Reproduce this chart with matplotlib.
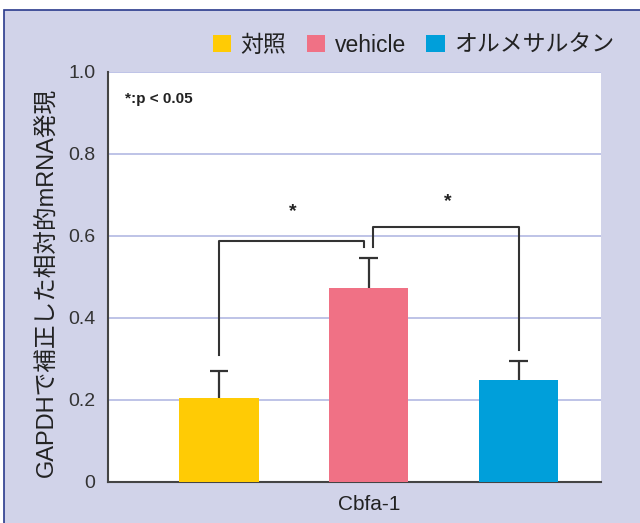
import matplotlib
matplotlib.use("Agg")
import matplotlib.pyplot as plt
from matplotlib.patches import Rectangle

plt.rcParams['font.family'] = ['Liberation Sans', 'Noto Sans CJK JP', 'DejaVu Sans']

groups = ['対照', 'vehicle', 'オルメサルタン']
means = [0.205, 0.472, 0.248]
errors = [0.065, 0.074, 0.048]
colors = ['#FFCB05', '#F07185', '#009FDA']
yticks = [0, 0.2, 0.4, 0.6, 0.8, 1.0]
ytick_labels = ['0', '0.2', '0.4', '0.6', '0.8', '1.0']
xlabel = 'Cbfa-1'
ylabel = 'GAPDHで補正した相対的mRNA発現'
note = '*:p < 0.05'

W, H = 640, 523
fig = plt.figure(figsize=(W / 100, H / 100), dpi=100)
fig.patch.set_facecolor('white')
bg = Rectangle((4 / W, -0.1), 1.2, (H - 10) / H + 0.1, transform=fig.transFigure,
               facecolor='#D1D3E9', edgecolor='#2A3A8C', linewidth=1.2, zorder=-5)
fig.patches.append(bg)

ax = fig.add_axes([108 / W, (H - 482) / H, (601 - 108) / W, (482 - 72) / H])
ax.set_zorder(2)
ax.set_facecolor('white')
x = [0, 1, 2]
ax.bar(x, means, width=0.53, color=colors, zorder=3)

# upper-only error bars
lc = '#333333'
tops = [m + e for m, e in zip(means, errors)]
cap = 0.062
ax.vlines(x, means, tops, color=lc, lw=1.6, zorder=2)
ax.hlines(tops, [xi - cap for xi in x], [xi + cap for xi in x], color=lc, lw=1.6, zorder=2)

ax.set_xlim(-0.74, 2.55)
ax.set_ylim(0, 1.0)
ax.set_yticks(yticks)
ax.set_yticklabels(ytick_labels, fontsize=14, color='#333333')
ax.tick_params(axis='y', length=0, pad=9)
ax.set_xticks([1])
ax.set_xticklabels([xlabel], fontsize=15, color='#222222')
ax.tick_params(axis='x', length=0, pad=9)
ax.yaxis.grid(True, color='#B3B9E3', linewidth=1.2, zorder=0)
ax.set_axisbelow(True)
for s in ['top', 'right']:
    ax.spines[s].set_visible(False)
for s in ['left', 'bottom']:
    ax.spines[s].set_color('#444444')
    ax.spines[s].set_linewidth(1.5)

ax.set_ylabel(ylabel, fontsize=17, color='#222222', va='center')
ax.yaxis.set_label_coords((47 - 108) / 493, (482 - 282) / 410)

# significance brackets
ax.plot([0, 0, 0.97, 0.97], [0.31, 0.588, 0.588, 0.572], color=lc, lw=1.5, zorder=4)
ax.plot([1.03, 1.03, 2, 2], [0.572, 0.622, 0.622, 0.322], color=lc, lw=1.5, zorder=4)
ax.text(0.49, 0.66, '*', ha='center', va='center', fontsize=14, fontweight='bold', color='#222222')
ax.text(1.53, 0.683, '*', ha='center', va='center', fontsize=14, fontweight='bold', color='#222222')

ax.text(0.035, 0.935, note, transform=ax.transAxes, fontsize=11, fontweight='bold',
        color='#222222', ha='left', va='center')

handles = [Rectangle((0, 0), 1, 1, facecolor=c) for c in colors]
leg = fig.legend(handles, groups, loc='center right', bbox_to_anchor=(614 / W, (H - 45) / H),
                 ncol=3, frameon=False, fontsize=16.5, handlelength=0.8, handleheight=0.8,
                 handletextpad=0.4, columnspacing=0.9, labelcolor='#222222',
                 borderpad=0, borderaxespad=0)

fig.savefig('out.png', dpi=100)
